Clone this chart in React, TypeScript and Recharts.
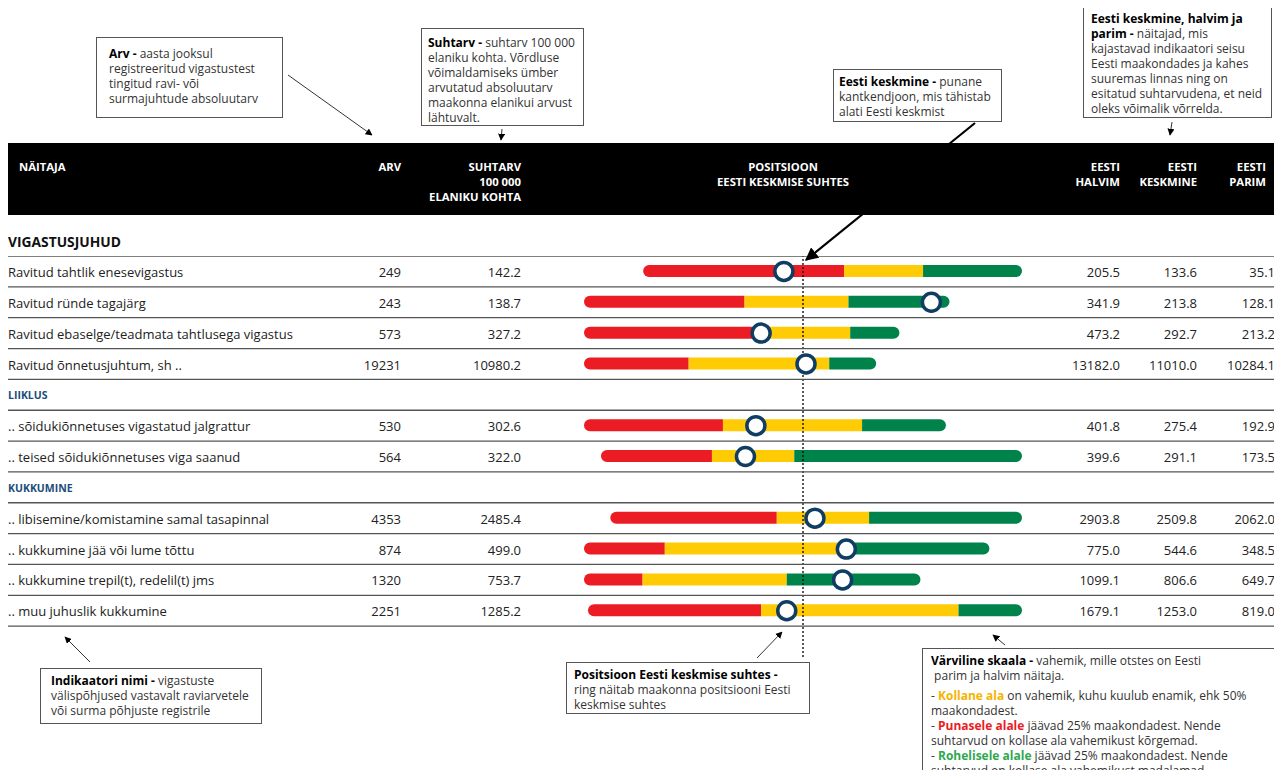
import React from 'react';
import { Bar, ComposedChart, ReferenceLine, Scatter, XAxis, YAxis } from 'recharts';

// rows of the table, section headers have no values
const rowNames = [
  'Ravitud tahtlik enesevigastus',
  'Ravitud ründe tagajärg',
  'Ravitud ebaselge/teadmata tahtlusega vigastus',
  'Ravitud õnnetusjuhtum, sh ..',
  'LIIKLUS',
  '.. sõidukiõnnetuses vigastatud jalgrattur',
  '.. teised sõidukiõnnetuses viga saanud',
  'KUKKUMINE',
  '.. libisemine/komistamine samal tasapinnal',
  '.. kukkumine jää või lume tõttu',
  '.. kukkumine trepil(t), redelil(t) jms',
  '.. muu juhuslik kukkumine',
];
const arv = [249, 243, 573, 19231, null, 530, 564, null, 4353, 874, 1320, 2251];
const suhtarv = [142.2, 138.7, 327.2, 10980.2, null, 302.6, 322.0, null, 2485.4, 499.0, 753.7, 1285.2];
const eestiHalvim = [205.5, 341.9, 473.2, 13182.0, null, 401.8, 399.6, null, 2903.8, 775.0, 1099.1, 1679.1];
const eestiKeskmine = [133.6, 213.8, 292.7, 11010.0, null, 275.4, 291.1, null, 2509.8, 544.6, 806.6, 1253.0];
const eestiParim = [35.1, 128.1, 213.2, 10284.1, null, 192.9, 173.5, null, 2062.0, 348.5, 649.7, 819.0];
// borders of the coloured zones (red -> yellow, yellow -> green)
const punaneKollane = [115.1, 248.0, 323.9, 12144, null, 321.6, 340.0, null, 2563.4, 690.0, 1020.9, 1335.9];
const kollaneRoheline = [79.6, 187.2, 253.8, 10750, null, 241.3, 295.8, null, 2374.7, 500.0, 828.3, 944.8];

const FONT = '"Open Sans", sans-serif';
const RED = '#ec1c24';
const YELLOW = '#ffcb05';
const GREEN = '#00834b';
const NAVY = '#0f3d63';
const SECTION = '#1b4d7a';

const CHART_H = 401;
const BAND = CHART_H / (rowNames.length + 1);

// position relative to Estonian average: 1 = average, 0..2 = scale ends
const toPos = (i: number, v: number) => {
  const avg = eestiKeskmine[i] as number;
  const d = Math.max((eestiHalvim[i] as number) - avg, avg - (eestiParim[i] as number));
  return 1 + (avg - v) / d;
};

const chartData: any[] = rowNames.map((name, i) => {
  const key = `r${i}`;
  if (eestiKeskmine[i] == null) return { key, base: 0, red: 0, yellow: 0, green: 0 };
  const a = toPos(i, eestiHalvim[i] as number);
  const b = toPos(i, punaneKollane[i] as number);
  const c = toPos(i, kollaneRoheline[i] as number);
  const e = toPos(i, eestiParim[i] as number);
  return { key, base: a, red: b - a, yellow: c - b, green: e - c, pos: toPos(i, suhtarv[i] as number) };
});
chartData.push({ key: 'end', base: 0, red: 0, yellow: 0, green: 0 });

const RowTick = (props: any) => {
  const { y, payload } = props;
  const i = chartData.findIndex((d) => d.key === payload.value);
  if (i < 0 || i >= rowNames.length) return <g />;
  const lineY = y + BAND / 2;
  const line = <line x1={0} x2={1268} y1={lineY} y2={lineY} stroke="#555" strokeWidth={1.3} />;
  const topLine =
    i === 0 ? <line x1={0} x2={1268} y1={y - BAND / 2} y2={y - BAND / 2} stroke="#555" strokeWidth={1.3} /> : null;
  if (eestiKeskmine[i] == null) {
    return (
      <g>
        <text x={0} y={y + 1} dy="0.35em" fontFamily={FONT} fontSize={10.5} fontWeight={700} fill={SECTION}>
          {rowNames[i]}
        </text>
        {line}
      </g>
    );
  }
  const t = (x: number, s: string, anchor: string) => (
    <text x={x} y={y + 1} dy="0.35em" textAnchor={anchor} fontFamily={FONT} fontSize={13} fill="#222">
      {s}
    </text>
  );
  return (
    <g>
      {topLine}
      {t(0, rowNames[i], 'start')}
      {t(393, String(arv[i]), 'end')}
      {t(513, (suhtarv[i] as number).toFixed(1), 'end')}
      {t(1112, (eestiHalvim[i] as number).toFixed(1), 'end')}
      {t(1189, (eestiKeskmine[i] as number).toFixed(1), 'end')}
      {t(1267, (eestiParim[i] as number).toFixed(1), 'end')}
      {line}
    </g>
  );
};

const Ring = (props: any) => {
  const { cx, cy, payload } = props;
  if (!payload || payload.pos == null || cx == null || isNaN(cx)) return <g />;
  return <circle cx={cx} cy={cy} r={9} fill="#fff" stroke={NAVY} strokeWidth={3.5} />;
};

const headStyle: React.CSSProperties = {
  position: 'absolute',
  top: 16,
  color: '#fff',
  fontFamily: FONT,
  fontWeight: 700,
  fontSize: 11.3,
  lineHeight: '15px',
  whiteSpace: 'nowrap',
};

const boxStyle = (left: number, top: number, width: number, height: number, pl: number, pt: number, size = 12): React.CSSProperties => ({
  position: 'absolute',
  left,
  top,
  width,
  height,
  boxSizing: 'border-box',
  border: '1px solid #555',
  background: '#fff',
  paddingLeft: pl,
  paddingTop: pt,
  fontFamily: FONT,
  fontSize: size,
  lineHeight: '15px',
  color: '#333',
  whiteSpace: 'nowrap',
});

const B = ({ children, color = '#000' }: any) => <b style={{ color }}>{children}</b>;

export default function App() {
  return (
    <div style={{ position: 'relative', width: 1268, height: 762, fontFamily: FONT }}>
      {/* table header */}
      <div style={{ position: 'absolute', left: 0, top: 135, width: 1268, height: 72, background: '#000' }}>
        <div style={{ ...headStyle, left: 11 }}>NÄITAJA</div>
        <div style={{ ...headStyle, right: 875, textAlign: 'right' }}>ARV</div>
        <div style={{ ...headStyle, right: 755, textAlign: 'right' }}>
          SUHTARV<br />100 000<br />ELANIKU KOHTA
        </div>
        <div style={{ ...headStyle, left: 675, width: 200, textAlign: 'center' }}>
          POSITSIOON<br />EESTI KESKMISE SUHTES
        </div>
        <div style={{ ...headStyle, right: 156, textAlign: 'right' }}>EESTI<br />HALVIM</div>
        <div style={{ ...headStyle, right: 79, textAlign: 'right' }}>EESTI<br />KESKMINE</div>
        <div style={{ ...headStyle, right: 10, textAlign: 'right' }}>EESTI<br />PARIM</div>
      </div>
      <div style={{ position: 'absolute', left: 0, top: 226, fontFamily: FONT, fontWeight: 700, fontSize: 13.8, lineHeight: '16px', color: '#111' }}>
        VIGASTUSJUHUD
      </div>

      <div style={{ position: 'absolute', left: 0, top: 248 }}>
        <ComposedChart
          layout="vertical"
          width={1268}
          height={CHART_H}
          data={chartData}
          margin={{ top: 0, right: 254, bottom: 0, left: 0 }}
          barSize={12}
        >
          <XAxis type="number" domain={[0, 2]} hide />
          <YAxis
            type="category"
            dataKey="key"
            width={576}
            axisLine={false}
            tickLine={false}
            interval={0}
            tick={<RowTick />}
          />
          <Bar dataKey="base" stackId="s" fill="transparent" isAnimationActive={false} />
          <Bar dataKey="red" stackId="s" fill={RED} radius={[6, 0, 0, 6]} isAnimationActive={false} />
          <Bar dataKey="yellow" stackId="s" fill={YELLOW} isAnimationActive={false} />
          <Bar dataKey="green" stackId="s" fill={GREEN} radius={[0, 6, 6, 0]} isAnimationActive={false} />
          <ReferenceLine x={1} stroke="#000" strokeWidth={1.3} strokeDasharray="2 2" />
          <Scatter dataKey="pos" shape={<Ring />} isAnimationActive={false} />
        </ComposedChart>
      </div>

      {/* annotation boxes */}
      <div style={boxStyle(88, 29, 187, 81, 12, 8)}>
        <B>Arv -</B> aasta jooksul<br />registreeritud vigastustest<br />tingitud ravi- või<br />surmajuhtude absoluutarv
      </div>
      <div style={boxStyle(413, 20, 163, 98, 6, 6)}>
        <B>Suhtarv -</B> suhtarv 100 000<br />elaniku kohta. Võrdluse<br />võimaldamiseks ümber<br />arvutatud absoluutarv<br />maakonna elanikui arvust<br />lähtuvalt.
      </div>
      <div style={boxStyle(825, 61, 169, 53, 5, 4)}>
        <B>Eesti keskmine -</B> punane<br />kantkendjoon, mis tähistab<br />alati Eesti keskmist
      </div>
      <div style={boxStyle(1075, -3, 189, 113, 7, 5)}>
        <B>Eesti keskmine, halvim ja</B><br /><B>parim -</B> näitajad, mis<br />kajastavad indikaatori seisu<br />Eesti maakondades ja kahes<br />suuremas linnas ning on<br />esitatud suhtarvudena, et neid<br />oleks võimalik võrrelda.
      </div>
      <div style={boxStyle(32, 660, 222, 56, 10, 4)}>
        <B>Indikaatori nimi -</B> vigastuste<br />välispõhjused vastavalt raviarvetele<br />või surma põhjuste registrile
      </div>
      <div style={boxStyle(558, 654, 244, 52, 7, 4)}>
        <B>Positsioon Eesti keskmise suhtes -</B><br />ring näitab maakonna positsiooni Eesti<br />keskmise suhtes
      </div>
      <div style={boxStyle(914, 640, 353, 140, 8, 4)}>
        <B>Värviline skaala -</B> vahemik, mille otstes on Eesti<br />&nbsp;parim ja halvim näitaja.
        <div style={{ height: 5 }} />
        - <B color="#f5b400">Kollane ala</B> on vahemik, kuhu kuulub enamik, ehk 50%<br />maakondadest.<br />
        - <B color={RED}>Punasele alale</B> jäävad 25% maakondadest. Nende<br />suhtarvud on kollase ala vahemikust kõrgemad.<br />
        - <B color="#2fa84f">Rohelisele alale</B> jäävad 25% maakondadest. Nende<br />suhtarvud on kollase ala vahemikust madalamad.
      </div>

      {/* pointer arrows */}
      <svg width={1268} height={770} style={{ position: 'absolute', left: 0, top: 0, pointerEvents: 'none', overflow: 'visible' }}>
        <defs>
          <marker id="ah" viewBox="0 0 10 10" refX={9} refY={5} markerWidth={7} markerHeight={7} orient="auto">
            <path d="M0,0 L10,5 L0,10 z" fill="#000" />
          </marker>
          <marker id="ahBig" viewBox="0 0 10 10" refX={9} refY={5} markerWidth={6} markerHeight={6} orient="auto">
            <path d="M0,0 L10,5 L0,10 z" fill="#000" />
          </marker>
        </defs>
        <line x1={280} y1={67} x2={364} y2={127} stroke="#333" strokeWidth={1} markerEnd="url(#ah)" />
        <line x1={494} y1={121} x2={493} y2={132} stroke="#333" strokeWidth={1} markerEnd="url(#ah)" />
        <line x1={967} y1={115} x2={798} y2={252} stroke="#000" strokeWidth={2.2} markerEnd="url(#ahBig)" />
        <line x1={1164} y1={114} x2={1162} y2={127} stroke="#333" strokeWidth={1} markerEnd="url(#ah)" />
        <line x1={82} y1={654} x2={57} y2={629} stroke="#333" strokeWidth={1} markerEnd="url(#ah)" />
        <line x1={749} y1={650} x2={774} y2={624} stroke="#333" strokeWidth={1} markerEnd="url(#ah)" />
        <line x1={997} y1={637} x2={985} y2={627} stroke="#333" strokeWidth={1} markerEnd="url(#ah)" />
      </svg>
    </div>
  );
}
